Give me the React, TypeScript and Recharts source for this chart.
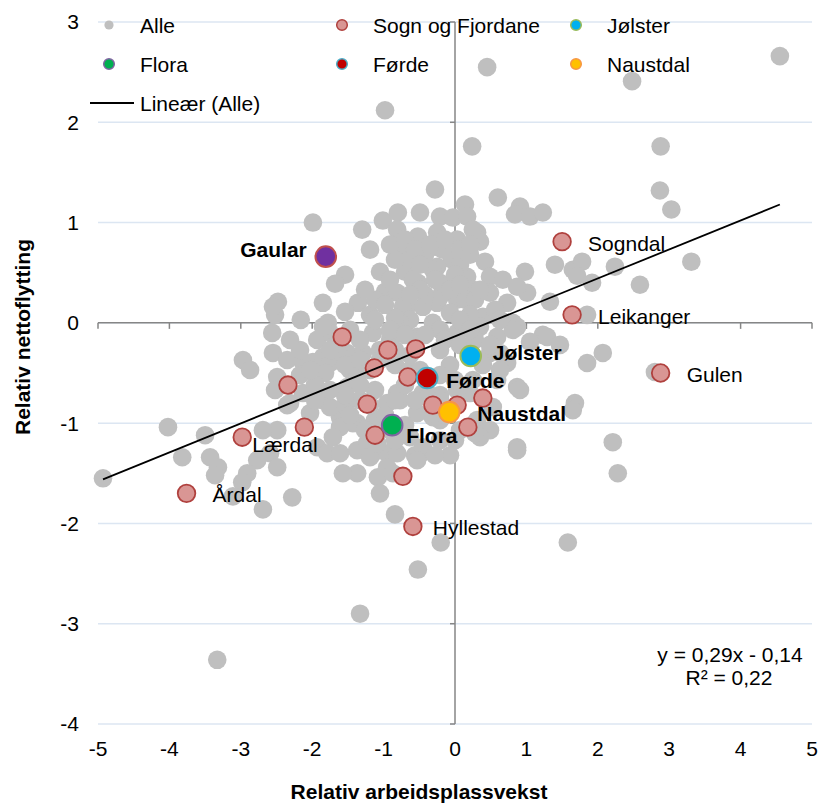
import React from 'react';
import { ScatterChart, Scatter, XAxis, YAxis, CartesianGrid, ReferenceLine } from 'recharts';

const xTicks = [-5, -4, -3, -2, -1, 0, 1, 2, 3, 4, 5];
const yTicks = [-4, -3, -2, -1, 0, 1, 2, 3];

// Alle kommuner: [relativ arbeidsplassvekst, relativ nettoflytting]
const alle: [number, number][] = [
  [4.55, 2.66], [2.48, 2.41], [0.45, 2.55], [-0.98, 2.12], [0.24, 1.76], [2.88, 1.76],
  [2.87, 1.32], [3.03, 1.13], [3.31, 0.61], [-0.28, 1.33], [0.6, 1.25], [0.91, 1.16],
  [0.84, 1.08], [1.05, 1.06], [1.23, 1.1], [0.14, 1.18], [-1.99, 1.0], [-1.3, 0.93],
  [-1.01, 1.02], [-0.8, 1.1], [-0.81, 0.93], [-0.49, 1.1], [-0.52, 0.86], [-0.21, 1.06],
  [-0.03, 1.05], [0.17, 1.06], [0.31, 0.9], [0.35, 0.81], [-0.25, 0.9], [-0.28, 0.76],
  [0.03, 0.83], [-0.04, 0.63], [-0.25, 0.56], [-0.17, 0.73], [-0.31, 0.53], [0.42, 0.61],
  [0.98, 0.51], [1.4, 0.58], [1.65, 0.53], [1.78, 0.61], [1.71, 0.47], [2.24, 0.56],
  [2.59, 0.38], [1.92, 0.4], [1.01, 0.3], [1.33, 0.21], [1.85, 0.08], [-1.54, 0.48],
  [-1.68, 0.39], [-1.05, 0.51], [-0.7, 0.51], [-0.52, 0.4], [-0.98, 0.31], [-1.85, 0.2],
  [-1.36, 0.2], [-1.54, 0.11], [-2.48, 0.21], [-2.52, 0.08], [-2.16, 0.03], [-1.78, 0.0],
  [-0.67, 0.16], [-0.25, 0.2], [-0.91, 0.43], [-0.59, 0.43], [-0.81, 0.3], [-0.21, 0.4],
  [0.17, 0.46], [0.49, 0.46], [0.67, 0.43], [0.87, 0.36], [0.73, 0.2], [0.49, 0.3],
  [0.25, 0.33], [0.03, 0.23], [-0.21, 0.26], [-0.45, 0.16], [-0.73, 0.16], [-0.07, 0.1],
  [0.39, 0.06], [0.81, 0.0], [-0.63, 0.03], [-0.31, 0.0], [0.25, 0.93], [-2.56, -0.1],
  [-2.97, -0.37], [-2.87, -0.47], [-2.55, -0.3], [-2.35, -0.37], [-2.13, -0.39], [-1.99, -0.39],
  [-2.49, -0.54], [-2.52, -0.67], [-2.31, -0.8], [-2.13, -0.7], [-1.85, -0.77], [-2.03, -0.9],
  [-1.61, -0.94], [-1.37, -1.0], [-1.93, -0.17], [-1.75, -0.1], [-1.51, -0.3], [-1.85, -0.34],
  [-1.75, -0.4], [-1.61, -0.34], [-1.47, -0.47], [-1.51, -0.64], [-1.37, -0.54], [-1.65, -0.2],
  [-1.29, -0.3], [-1.47, -0.07], [-1.85, -0.04], [-1.15, -0.1], [-1.33, -0.17], [-0.91, -0.17],
  [-0.81, -0.07], [-1.75, -0.84], [-1.43, -1.0], [-1.61, -1.04], [-1.71, -1.14], [-1.93, -1.24],
  [-1.79, -1.3], [-1.61, -1.3], [-1.37, -1.27], [-1.23, -1.2], [-1.15, -1.3], [-0.95, -1.3],
  [-1.37, -1.5], [-1.57, -1.5], [-1.08, -1.54], [-1.05, -1.7], [-0.84, -1.91], [-0.56, -1.32],
  [-0.45, -1.29], [-1.19, -1.34], [-1.09, -1.2], [-2.49, -1.07], [-2.69, -1.07], [-2.59, -1.3],
  [-2.49, -1.44], [-2.77, -1.37], [-2.91, -1.5], [-3.5, -1.12], [-4.02, -1.04], [-3.82, -1.34],
  [-3.43, -1.34], [-3.32, -1.44], [-3.36, -1.52], [-2.98, -1.59], [-3.11, -1.73], [-2.69, -1.86],
  [-2.28, -1.74], [-4.93, -1.55], [-0.95, -0.8], [-0.81, -0.7], [-0.95, -1.44], [-0.77, 0.0],
  [-0.53, -0.14], [-0.21, -0.07], [0.03, -0.1], [0.35, -0.04], [0.59, -0.14], [0.87, -0.04],
  [0.49, -0.3], [0.73, -0.4], [0.59, -0.57], [0.87, -0.64], [0.25, -0.57], [0.21, -0.7],
  [0.03, -0.67], [0.53, -0.84], [0.31, -0.97], [0.49, -1.07], [0.35, -1.14], [0.87, -1.24],
  [-0.45, -0.7], [-0.53, -0.9], [-0.31, -0.94], [-0.77, -0.77], [-0.63, -1.14], [-0.45, -1.24],
  [-0.53, -1.37], [-0.21, -1.17], [-0.81, -1.3], [-0.87, -1.5], [0.81, -0.07], [1.23, -0.12],
  [1.05, -0.19], [0.63, -0.3], [0.63, -0.47], [0.39, -0.42], [0.91, -0.67], [1.85, -0.4],
  [2.07, -0.3], [1.68, -0.8], [1.65, -0.87], [2.21, -1.19], [0.87, -1.27], [2.28, -1.5],
  [1.29, -0.14], [1.47, -0.22], [2.8, -0.49], [0.28, -1.1], [-0.2, -2.19], [1.58, -2.19],
  [-0.52, -2.46], [-1.33, -2.9], [-3.33, -3.36], [-0.77, 0.73], [-0.63, 0.63], [-0.42, 0.68],
  [0.07, 0.58], [0.21, 0.68], [-0.14, 0.38], [0.0, 0.48], [0.14, 0.23], [-0.42, 0.28],
  [-0.84, 0.05], [-1.19, 0.08], [-1.12, 0.23], [-1.26, 0.33], [-0.84, 0.63], [-1.19, 0.73],
  [-2.55, 0.16], [-1.05, -0.27], [-0.84, -0.42], [-0.63, -0.32], [-0.21, -0.27], [-0.07, -0.42],
  [-0.21, -0.52], [0.0, -0.57], [-1.12, -0.67], [-1.33, -0.77], [-1.54, -0.82], [-1.12, -0.97],
  [-0.91, -1.07], [-0.21, -0.72], [0.07, -1.07], [-0.21, -0.97], [-1.82, -0.5], [-1.96, -0.62],
  [-2.17, -0.52], [-2.35, -0.82],
  [-0.91, 0.78], [-0.7, 0.83], [-0.56, 0.73], [-0.35, 0.78], [-0.14, 0.83], [0.07, 0.73],
  [0.21, 0.78], [-0.49, 0.58], [-0.28, 0.43], [-0.07, 0.33], [0.07, 0.38], [0.28, 0.23],
  [0.35, 0.33], [0.56, 0.13], [0.63, 0.03], [0.21, 0.08], [0.07, 0.03], [-0.49, 0.33],
  [-0.63, 0.28], [-0.98, 0.18], [-1.12, 0.03], [-0.91, -0.07], [-0.7, -0.12], [-0.42, -0.12],
  [-0.14, -0.17], [0.07, -0.22], [0.28, -0.17], [0.49, -0.22], [0.21, -0.07],
  [-1.75, -0.27], [-1.54, -0.42], [-1.33, -0.37], [-1.19, -0.47], [-1.33, -0.62], [-1.54, -0.72],
  [-1.75, -0.67], [-1.96, -0.77], [-1.19, -0.82], [-0.98, -0.92], [-1.47, -0.92], [-1.26, -1.07],
  [-0.84, -1.17], [-0.7, -1.02], [-2.03, -0.47], [-2.17, -0.27], [-2.31, -0.17], [-1.05, -0.37],
  [-0.84, -0.27], [-0.63, -0.47], [-0.49, -0.47], [-0.7, -0.62], [-0.84, -0.77], [-0.56, -0.77],
  [-0.35, -0.72], [-0.21, -0.77], [-0.14, -0.92], [0.0, -1.17], [-0.07, -1.32], [-0.28, -1.32],
];

// Sogn og Fjordane: [x, y, navn]
const sognOgFjordane: [number, number, string][] = [
  [1.5, 0.81, 'Sogndal'], [1.64, 0.08, 'Leikanger'], [2.88, -0.5, 'Gulen'],
  [-3.76, -1.7, 'Årdal'], [-2.98, -1.14, 'Lærdal'], [-0.59, -2.03, 'Hyllestad'],
  [-1.58, -0.14, ''], [-0.94, -0.27, ''], [-0.55, -0.26, ''], [-1.13, -0.45, ''],
  [-0.66, -0.54, ''], [-2.34, -0.62, ''], [-1.23, -0.81, ''], [-0.31, -0.82, ''],
  [0.03, -0.82, ''], [0.39, -0.75, ''], [0.18, -1.04, ''], [-2.11, -1.04, ''],
  [-1.12, -1.12, ''], [-0.73, -1.53, ''],
];

// Utvalgte kommuner
const kommuner = ['Gaular', 'Jølster', 'Førde', 'Flora', 'Naustdal'];
const kommuneX = [-1.81, 0.22, -0.39, -0.88, -0.08];
const kommuneY = [0.66, -0.33, -0.55, -1.02, -0.89];

// Lineær (Alle), endepunkter lest av figuren
const trendX = [-4.93, 4.55];
const trendY = [-1.56, 1.18];

const FONT = '"Liberation Sans", Arial, sans-serif';
const FS = 21;

const kommuneColors: Record<string, { fill: string; stroke: string }> = {
  Gaular: { fill: '#7030A0', stroke: '#C0504D' },
  'Jølster': { fill: '#00B0F0', stroke: '#9BBB59' },
  'Førde': { fill: '#C00000', stroke: '#4BACC6' },
  Flora: { fill: '#00B050', stroke: '#8064A2' },
  Naustdal: { fill: '#FFC000', stroke: '#F79646' },
};

const labelPos: Record<string, { dx: number; dy: number; end?: boolean; bold?: boolean }> = {
  Sogndal: { dx: 26, dy: 2 },
  Leikanger: { dx: 26, dy: 2 },
  Gulen: { dx: 26, dy: 1 },
  'Lærdal': { dx: 10, dy: 7 },
  'Årdal': { dx: 26, dy: 1 },
  Hyllestad: { dx: 20, dy: 1 },
  Gaular: { dx: -19, dy: -7, end: true, bold: true },
  'Jølster': { dx: 22, dy: -3, bold: true },
  'Førde': { dx: 19, dy: 2, bold: true },
  Flora: { dx: 14, dy: 10, bold: true },
  Naustdal: { dx: 28, dy: 1, bold: true },
};

const alleData = alle.map(([x, y]) => ({ x, y }));
const sognData = sognOgFjordane.map(([x, y, name]) => ({ x, y, name }));
const kommuneData = kommuner.map((name, i) => ({ x: kommuneX[i], y: kommuneY[i], name }));
const trendData = trendX.map((x, i) => ({ x, y: trendY[i] }));

const PointLabel = ({ cx, cy, name }: { cx: number; cy: number; name: string }) => {
  const p = labelPos[name];
  if (!p) return null;
  return (
    <text
      x={cx + p.dx}
      y={cy + p.dy}
      textAnchor={p.end ? 'end' : 'start'}
      dominantBaseline="central"
      fontFamily={FONT}
      fontSize={FS}
      fontWeight={p.bold ? 'bold' : 'normal'}
      fill="#000"
    >
      {name}
    </text>
  );
};

const GreyDot = (props: any) => <circle cx={props.cx} cy={props.cy} r={9.3} fill="#BFBFBF" />;

const SognDot = (props: any) => (
  <g>
    <circle cx={props.cx} cy={props.cy} r={8.8} fill="#D99694" stroke="#B0413E" strokeWidth={1.8} />
    {props.payload?.name ? <PointLabel cx={props.cx} cy={props.cy} name={props.payload.name} /> : null}
  </g>
);

const KommuneDot = (props: any) => {
  const c = kommuneColors[props.payload?.name] || { fill: '#999', stroke: '#666' };
  return (
    <g>
      <circle cx={props.cx} cy={props.cy} r={10.3} fill={c.fill} stroke={c.stroke} strokeWidth={2} />
      <PointLabel cx={props.cx} cy={props.cy} name={props.payload?.name} />
    </g>
  );
};

const NoDot = () => <g />;

const AXIS = '#868686';
const tickStyle = { fontFamily: FONT, fontSize: FS, fill: '#000' };

export default function App() {
  return (
    <div style={{ position: 'absolute', left: 0, top: 0, width: 818, height: 804, background: '#fff' }}>
      <ScatterChart width={818} height={804} margin={{ top: 22, right: 6, bottom: 40, left: 0 }}>
        <CartesianGrid horizontal vertical={false} stroke="#DCE6F2" strokeWidth={1.5} />
        <XAxis
          type="number"
          dataKey="x"
          domain={[-5, 5]}
          ticks={xTicks}
          axisLine={false}
          tickLine={false}
          tickMargin={11}
          height={40}
          tick={tickStyle}
        />
        <YAxis
          type="number"
          dataKey="y"
          domain={[-4, 3]}
          ticks={yTicks}
          axisLine={false}
          tickLine={false}
          tickMargin={13}
          width={98}
          tick={tickStyle}
        />
        <ReferenceLine x={0} stroke={AXIS} strokeWidth={1.5} />
        <ReferenceLine y={0} stroke={AXIS} strokeWidth={1.5} />
        {xTicks.map((t) => (
          <ReferenceLine
            key={'xt' + t}
            segment={[{ x: t, y: 0 }, { x: t, y: -0.06 }]}
            stroke={AXIS}
            strokeWidth={1.5}
          />
        ))}
        {yTicks.map((t) => (
          <ReferenceLine
            key={'yt' + t}
            segment={[{ x: -0.07, y: t }, { x: 0, y: t }]}
            stroke={AXIS}
            strokeWidth={1.5}
          />
        ))}
        <Scatter name="Alle" data={alleData} shape={GreyDot} isAnimationActive={false} />
        <Scatter name="Sogn og Fjordane" data={sognData} shape={SognDot} isAnimationActive={false} />
        <Scatter
          name="Lineær (Alle)"
          data={trendData}
          shape={NoDot}
          line={{ stroke: '#000', strokeWidth: 1.8 }}
          isAnimationActive={false}
        />
        <Scatter name="Kommuner" data={kommuneData} shape={KommuneDot} isAnimationActive={false} />
      </ScatterChart>

      <svg
        width={818}
        height={804}
        style={{ position: 'absolute', left: 0, top: 0, pointerEvents: 'none' }}
        fontFamily={FONT}
      >
        {/* legend */}
        <g fontSize={FS} dominantBaseline="central">
          <circle cx={109} cy={25} r={4.6} fill="#BFBFBF" />
          <text x={140} y={25}>Alle</text>
          <circle cx={342} cy={25} r={5.3} fill="#D99694" stroke="#B0413E" strokeWidth={1.5} />
          <text x={373} y={25}>Sogn og Fjordane</text>
          <circle cx={576} cy={25} r={5.3} fill="#00B0F0" stroke="#9BBB59" strokeWidth={1.5} />
          <text x={607} y={25}>Jølster</text>
          <circle cx={109} cy={64} r={5.3} fill="#00B050" stroke="#8064A2" strokeWidth={1.5} />
          <text x={140} y={64}>Flora</text>
          <circle cx={342} cy={64} r={5.3} fill="#C00000" stroke="#4BACC6" strokeWidth={1.5} />
          <text x={373} y={64}>Førde</text>
          <circle cx={576} cy={64} r={5.3} fill="#FFC000" stroke="#F79646" strokeWidth={1.5} />
          <text x={607} y={64}>Naustdal</text>
          <line x1={90} y1={103} x2={134} y2={103} stroke="#000" strokeWidth={1.8} />
          <text x={140} y={103}>Lineær (Alle)</text>
        </g>
        {/* regression text */}
        <g fontSize={FS} textAnchor="middle" dominantBaseline="central">
          <text x={730} y={654}>y = 0,29x - 0,14</text>
          <text x={729} y={677}>R² = 0,22</text>
        </g>
        {/* axis titles */}
        <text x={419} y={791} fontSize={FS} fontWeight="bold" textAnchor="middle" dominantBaseline="central">
          Relativ arbeidsplassvekst
        </text>
        <text
          x={22}
          y={337}
          fontSize={FS}
          fontWeight="bold"
          textAnchor="middle"
          dominantBaseline="central"
          transform="rotate(-90 22 337)"
        >
          Relativ nettoflytting
        </text>
      </svg>
    </div>
  );
}
